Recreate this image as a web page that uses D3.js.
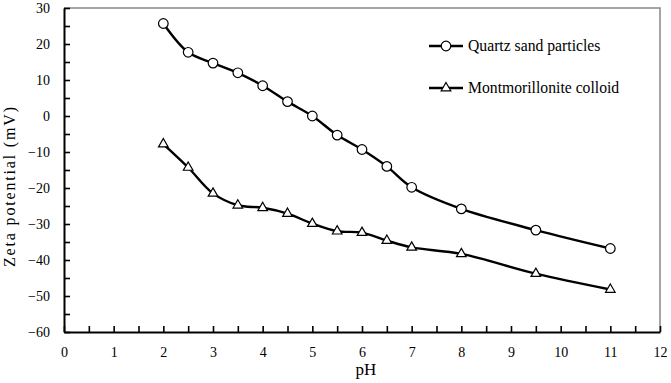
<!DOCTYPE html>
<html lang="en">
<head>
    <meta charset="UTF-8">
    <script src="https://d3js.org/d3.v7.min.js"></script>
    <title>Zeta potential</title>
    <style>
        body { margin: 0; background: #fff; }
    </style>
</head>
<body>
<svg height="383" width="671"></svg>
<script>
    const width = 671, height = 383;
    const mLeft = 64, mRight = 660, mTop = 8, mBottom = 332;
    const font = "Liberation Serif";

    const pH = [2, 2.5, 3, 3.5, 4, 4.5, 5, 5.5, 6, 6.5, 7, 8, 9.5, 11];
    const quartz = [25.7, 17.7, 14.7, 12, 8.4, 4, 0, -5.3, -9.3, -14, -19.8, -25.8, -31.7, -36.8];
    const montmorillonite = [-7.8, -14.3, -21.5, -24.8, -25.5, -27.1, -29.9, -32, -32.4, -34.6, -36.5, -38.3, -43.8, -48.2];
    const seriesNames = ["Quartz sand particles", "Montmorillonite colloid"];
    const xTicks = d3.range(0, 13, 1);
    const yTicks = d3.range(-60, 31, 10);

    const svg = d3.select("svg");
    const x = d3.scaleLinear().domain([0, 12]).range([mLeft, mRight]);
    const y = d3.scaleLinear().domain([-60, 30]).range([mBottom, mTop]);

    // frame (top and right in grey)
    svg.append("path")
        .attr("d", `M${mLeft},${mTop}H${mRight}V${mBottom}`)
        .attr("fill", "none").attr("stroke", "#888").attr("stroke-width", 1.5);

    function styleAxis(g) {
        g.attr("font-family", font).attr("font-size", 14);
        g.selectAll("line").attr("stroke", "#000").attr("stroke-width", 1.6);
        g.selectAll("text").attr("fill", "#000");
    }

    // minor + major ticks, inward
    svg.append("g").attr("transform", `translate(0,${mBottom})`)
        .call(d3.axisBottom(x).tickValues(d3.range(0, 12.01, 0.5)).tickSize(-6).tickFormat(""))
        .call(styleAxis)
        .select(".domain").remove();
    svg.append("g").attr("transform", `translate(0,${mBottom})`)
        .call(d3.axisBottom(x).tickValues(xTicks).tickSize(0).tickPadding(15).tickFormat(d3.format("d")))
        .call(styleAxis)
        .select(".domain").attr("stroke", "#000").attr("stroke-width", 2);

    svg.append("g").attr("transform", `translate(${mLeft},0)`)
        .call(d3.axisLeft(y).tickValues(d3.range(-60, 30.01, 5)).tickSize(-6).tickFormat(""))
        .call(styleAxis)
        .select(".domain").remove();
    svg.append("g").attr("transform", `translate(${mLeft},0)`)
        .call(d3.axisLeft(y).tickValues(yTicks).tickSize(0).tickPadding(14).tickFormat(d3.format("d")))
        .call(styleAxis)
        .select(".domain").attr("stroke", "#000").attr("stroke-width", 2);

    svg.append("text")
        .attr("font-family", font).attr("font-size", 17)
        .attr("x", 366).attr("y", 375)
        .attr("text-anchor", "middle").text("pH");
    svg.append("text")
        .attr("font-family", font).attr("font-size", 16)
        .attr("transform", "translate(15,187) rotate(-90)")
        .attr("text-anchor", "middle")
        .attr("textLength", 160).attr("lengthAdjust", "spacing")
        .text("Zeta potential (mV)");

    const line = d3.line().curve(d3.curveCatmullRom.alpha(0.5))
        .x((d, i) => x(pH[i])).y(d => y(d));

    const triangle = d3.symbol().type(d3.symbolTriangle).size(40);

    function drawSeries(values, marker) {
        svg.append("path").datum(values)
            .attr("d", line).attr("fill", "none")
            .attr("stroke", "#000").attr("stroke-width", 2.4);
        drawMarkers(values.map((v, i) => [x(pH[i]), y(v)]), marker);
    }

    function drawMarkers(pts, marker) {
        if (marker === "circle") {
            svg.selectAll(null).data(pts).enter().append("circle")
                .attr("cx", d => d[0]).attr("cy", d => d[1]).attr("r", 4.8)
                .attr("fill", "#fff").attr("stroke", "#000").attr("stroke-width", 1.2);
        } else {
            svg.selectAll(null).data(pts).enter().append("path")
                .attr("d", triangle)
                .attr("transform", d => `translate(${d[0]},${d[1]})`)
                .attr("fill", "#fff").attr("stroke", "#000").attr("stroke-width", 1.2);
        }
    }

    drawSeries(quartz, "circle");
    drawSeries(montmorillonite, "triangle");

    // legend
    const markers = ["circle", "triangle"];
    seriesNames.forEach((name, i) => {
        const ly = 46 + i * 42;
        svg.append("line").attr("x1", 429).attr("x2", 463)
            .attr("y1", ly).attr("y2", ly)
            .attr("stroke", "#000").attr("stroke-width", 2.4);
        drawMarkers([[446, ly]], markers[i]);
        svg.append("text")
            .attr("font-family", font).attr("font-size", 15.7)
            .attr("x", 468).attr("y", ly + 5).text(name);
    });
</script>
</body>
</html>
